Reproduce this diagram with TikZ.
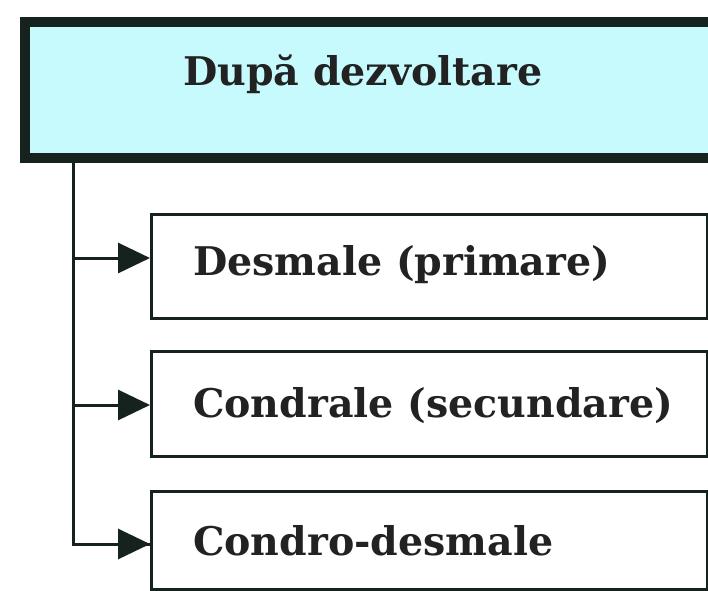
\documentclass[tikz,border=0pt]{standalone}
\usepackage{fontspec}
\setmainfont{DejaVu Serif}
\usetikzlibrary{arrows.meta,positioning}
\definecolor{boxcyan}{RGB}{198,250,253}
\definecolor{edgedark}{RGB}{22,34,30}
\definecolor{inkdark}{RGB}{34,34,34}

\begin{document}
\begin{tikzpicture}[x=1pt,y=-1pt,>={Triangle[length=32pt,width=30pt]},
 headbox/.style={draw=edgedark,line width=10pt,fill=boxcyan,inner sep=0pt},
 subbox/.style={draw=edgedark,line width=3pt,fill=white,inner sep=0pt},
 label/.style={anchor=base west,inner sep=0pt,text=inkdark,
 font=\fontsize{39.5}{44}\selectfont\bfseries},
 link/.style={line width=3pt,edgedark}]
 \useasboundingbox (0,0) rectangle (708,590);
 \fill[white] (0,0) rectangle (708,590);
 % boxes
 \node[headbox,minimum width=691pt,minimum height=136pt,anchor=north west] (head) at (20,17) {};
 \node[subbox,minimum width=556pt,minimum height=104pt,anchor=north west] (b1) at (150,213) {};
 \node[subbox,minimum width=556pt,minimum height=105pt,anchor=north west] (b2) at (150,350) {};
 \node[subbox,minimum width=556pt,minimum height=98pt,anchor=north west] (b3) at (150,490) {};
 % texts
 \node[label] (t0) at (183,85) {După dezvoltare};
 \node[label] (t1) at (193,275) {Desmale (primare)};
 \node[label] (t2) at (193,417) {Condrale (secundare)};
 \node[label] (t3) at (193,555) {Condro-desmale};
 % connectors
 \coordinate (top) at (73,158);
 \coordinate (e1) at (150,258);
 \coordinate (e2) at (150,405);
 \coordinate (e3) at (150,544);
 \draw[link] (top) -- (73,544) -- (e3);
 \foreach \y in {e1,e2,e3}
   \draw[link,->] (73,0 |- \y) -- (\y);
\end{tikzpicture}
\end{document}
